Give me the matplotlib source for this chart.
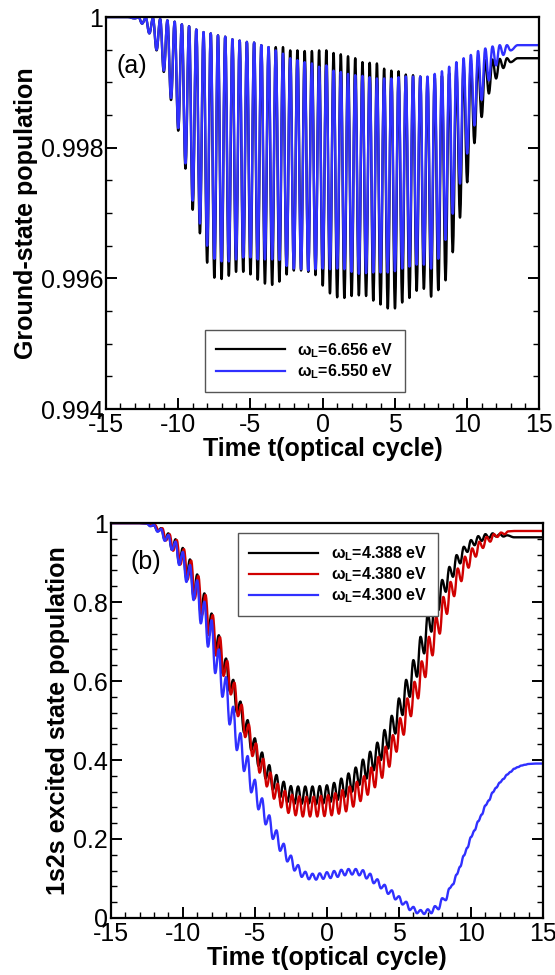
import numpy as np
import matplotlib.pyplot as plt
from matplotlib.path import Path
from matplotlib.patches import PathPatch
from matplotlib.lines import Line2D
from matplotlib.ticker import MultipleLocator

plt.rcParams['font.family'] = ['Liberation Sans', 'DejaVu Sans']
plt.rcParams['axes.unicode_minus'] = False
plt.rcParams['mathtext.fontset'] = 'custom'
plt.rcParams['mathtext.rm'] = 'Liberation Sans'
plt.rcParams['mathtext.bf'] = 'Liberation Sans:bold'

# ---------------- panel (a): ground-state population ----------------
# turning points, every half optical cycle
a_trough_t0 = -13.0
a_peak_t0 = -12.75
a_blue_trough = [0.99998, 0.99990, 0.99975, 0.99950, 0.99918, 0.99876, 0.99830, 0.99776, 0.99719, 0.99684,
                 0.99650, 0.99630, 0.99626, 0.99626, 0.99629, 0.99632, 0.99632, 0.99629, 0.99629, 0.99629,
                 0.99628, 0.99619, 0.99615, 0.99614, 0.99612, 0.99614, 0.99615, 0.99614, 0.99615, 0.99614,
                 0.99610, 0.99607, 0.99608, 0.99609, 0.99609, 0.99609, 0.99611, 0.99615, 0.99618, 0.99621,
                 0.99621, 0.99615, 0.99630, 0.99659, 0.99699, 0.99745, 0.99791, 0.99834, 0.99873, 0.99903,
                 0.99926, 0.99942, 0.99949]
a_black_trough = [0.99998, 0.99990, 0.99975, 0.99949, 0.99916, 0.99873, 0.99826, 0.99768, 0.99705, 0.99669,
                  0.99624, 0.99601, 0.99599, 0.99604, 0.99610, 0.99610, 0.99606, 0.99598, 0.99592, 0.99590,
                  0.99595, 0.99606, 0.99612, 0.99612, 0.99610, 0.99605, 0.99589, 0.99577, 0.99571, 0.99570,
                  0.99573, 0.99574, 0.99573, 0.99566, 0.99560, 0.99554, 0.99554, 0.99563, 0.99570, 0.99581,
                  0.99584, 0.99572, 0.99582, 0.99597, 0.99640, 0.99693, 0.99747, 0.99807, 0.99847, 0.99883,
                  0.99906, 0.99922, 0.99931]
a_blue_peak = [1.00000, 0.99999, 0.99998, 0.99997, 0.99995, 0.99993, 0.99989, 0.99986, 0.99981, 0.99977,
               0.99975, 0.99972, 0.99970, 0.99966, 0.99964, 0.99962, 0.99961, 0.99957, 0.99954, 0.99949,
               0.99944, 0.99937, 0.99934, 0.99931, 0.99929, 0.99924, 0.99926, 0.99918, 0.99916, 0.99913,
               0.99911, 0.99910, 0.99908, 0.99906, 0.99906, 0.99906, 0.99908, 0.99909, 0.99909, 0.99909,
               0.99909, 0.99913, 0.99917, 0.99924, 0.99931, 0.99937, 0.99942, 0.99948, 0.99952, 0.99955,
               0.99957, 0.99957]
a_black_peak = [1.00000, 0.99999, 0.99998, 0.99997, 0.99995, 0.99993, 0.99989, 0.99986, 0.99981, 0.99977,
                0.99975, 0.99972, 0.99970, 0.99966, 0.99964, 0.99962, 0.99961, 0.99957, 0.99954, 0.99954,
                0.99954, 0.99949, 0.99949, 0.99948, 0.99948, 0.99949, 0.99949, 0.99945, 0.99943, 0.99940,
                0.99937, 0.99931, 0.99930, 0.99929, 0.99921, 0.99918, 0.99917, 0.99912, 0.99911, 0.99909,
                0.99907, 0.99908, 0.99910, 0.99914, 0.99920, 0.99925, 0.99929, 0.99932, 0.99934, 0.99935,
                0.99936, 0.99937]
a_edge_t = [-15.0, -13.5, 13.5, 15.0]
a_blue_edge = [1.0, 1.0, 0.99957, 0.99957]
a_black_edge = [1.0, 1.0, 0.99937, 0.99937]
a_labels = ['ω$_\\mathregular{L}$=6.656 eV', 'ω$_\\mathregular{L}$=6.550 eV']

# ---------------- panel (b): 1s2s excited-state population ----------------
b_peak_t0 = -12.5
b_trough_t0 = -12.25
b_black_peak = [0.999, 0.995, 0.987, 0.974, 0.959, 0.937, 0.908, 0.870, 0.822, 0.771,
                0.716, 0.657, 0.603, 0.548, 0.501, 0.455, 0.419, 0.387, 0.362, 0.345,
                0.334, 0.333, 0.333, 0.333, 0.334, 0.336, 0.342, 0.353, 0.366, 0.381,
                0.401, 0.421, 0.444, 0.476, 0.512, 0.556, 0.603, 0.653, 0.712, 0.771,
                0.818, 0.856, 0.889, 0.919, 0.940, 0.957, 0.967, 0.972, 0.974, 0.972,
                0.969]
b_black_trough = [0.993, 0.980, 0.958, 0.932, 0.898, 0.860, 0.813, 0.771, 0.721, 0.670,
                  0.620, 0.575, 0.521, 0.470, 0.425, 0.385, 0.353, 0.325, 0.305, 0.293,
                  0.289, 0.289, 0.290, 0.288, 0.290, 0.294, 0.299, 0.307, 0.320, 0.337,
                  0.353, 0.374, 0.400, 0.429, 0.467, 0.514, 0.560, 0.611, 0.670, 0.725,
                  0.780, 0.826, 0.864, 0.898, 0.927, 0.944, 0.955, 0.962, 0.966, 0.966]
b_red_peak = [0.999, 0.995, 0.987, 0.972, 0.957, 0.934, 0.905, 0.866, 0.818, 0.767,
              0.711, 0.651, 0.596, 0.540, 0.490, 0.442, 0.403, 0.368, 0.340, 0.322,
              0.312, 0.308, 0.307, 0.307, 0.309, 0.311, 0.316, 0.324, 0.333, 0.345,
              0.359, 0.381, 0.408, 0.434, 0.463, 0.506, 0.556, 0.598, 0.650, 0.712,
              0.763, 0.813, 0.851, 0.885, 0.915, 0.936, 0.953, 0.965, 0.972, 0.976,
              0.979]
b_red_trough = [0.993, 0.980, 0.956, 0.930, 0.895, 0.857, 0.809, 0.767, 0.716, 0.664,
                0.613, 0.566, 0.511, 0.458, 0.410, 0.368, 0.333, 0.302, 0.280, 0.266,
                0.260, 0.257, 0.257, 0.257, 0.258, 0.260, 0.264, 0.270, 0.282, 0.296,
                0.312, 0.331, 0.355, 0.383, 0.421, 0.464, 0.511, 0.556, 0.610, 0.665,
                0.720, 0.770, 0.815, 0.853, 0.887, 0.915, 0.937, 0.953, 0.965, 0.972]
b_blue_peak = [0.999, 0.995, 0.985, 0.970, 0.953, 0.927, 0.894, 0.855, 0.801, 0.754,
               0.680, 0.610, 0.535, 0.468, 0.410, 0.350, 0.303, 0.260, 0.222, 0.188,
               0.158, 0.134, 0.117, 0.112, 0.113, 0.116, 0.119, 0.122, 0.124, 0.124,
               0.121, 0.112, 0.098, 0.084, 0.070, 0.055, 0.041, 0.028, 0.020, 0.022,
               0.030, 0.050, 0.075, 0.110, 0.158, 0.205, 0.245, 0.285, 0.318, 0.343,
               0.363, 0.378, 0.386, 0.390]
b_blue_trough = [0.992, 0.978, 0.955, 0.932, 0.894, 0.851, 0.805, 0.746, 0.687, 0.620,
                 0.560, 0.490, 0.425, 0.372, 0.318, 0.275, 0.237, 0.200, 0.170, 0.143,
                 0.120, 0.104, 0.098, 0.097, 0.099, 0.101, 0.104, 0.108, 0.110, 0.108,
                 0.100, 0.088, 0.075, 0.061, 0.047, 0.034, 0.020, 0.012, 0.010, 0.012,
                 0.022, 0.045, 0.085, 0.130, 0.178, 0.222, 0.262, 0.298, 0.330, 0.352,
                 0.370, 0.382, 0.388]
b_black_edge_t, b_black_edge = [-15.0, -13.0, 13.0, 15.0], [1.0, 1.0, 0.964, 0.964]
b_red_edge_t, b_red_edge = [-15.0, -13.0, 13.0, 15.0], [1.0, 1.0, 0.980, 0.980]
b_blue_edge_t, b_blue_edge = [-15.0, -13.0, 14.5, 15.0], [1.0, 1.0, 0.391, 0.391]
b_red_shift = 0.08
b_labels = ['ω$_\\mathregular{L}$=4.388 eV', 'ω$_\\mathregular{L}$=4.380 eV',
            'ω$_\\mathregular{L}$=4.300 eV']

BLACK, RED, BLUE = '#000000', '#d00000', '#3030ff'


def curve(peaks, p0, troughs, q0, edge_t, edge_v, shift=0.0):
    t = np.concatenate([p0 + 0.5 * np.arange(len(peaks)) + shift,
                        q0 + 0.5 * np.arange(len(troughs)) + shift, edge_t])
    v = np.concatenate([peaks, troughs, edge_v])
    o = np.argsort(t)
    return t[o], v[o]


def smooth(ax, t, v, color, lw):
    # cubic segments with flat tangents at every turning point
    verts, codes = [(t[0], v[0])], [Path.MOVETO]
    for i in range(len(t) - 1):
        dt = t[i + 1] - t[i]
        verts += [(t[i] + 0.4 * dt, v[i]), (t[i + 1] - 0.4 * dt, v[i + 1]), (t[i + 1], v[i + 1])]
        codes += [Path.CURVE4] * 3
    ax.add_patch(PathPatch(Path(verts, codes), fill=False, edgecolor=color, lw=lw,
                           joinstyle='round', capstyle='round'))


def style(ax):
    for s in ax.spines.values():
        s.set_linewidth(1.6)
    ax.tick_params(which='both', direction='in', left=True, right=True, top=False,
                   bottom=True, labelsize=18)
    ax.tick_params(which='major', length=8, width=1.4, pad=3)
    ax.tick_params(which='minor', length=4.5, width=1.0)
    ax.set_xlim(-15, 15)
    ax.xaxis.set_major_locator(MultipleLocator(5))
    ax.xaxis.set_minor_locator(MultipleLocator(1))
    ax.set_xlabel('Time t(optical cycle)', fontsize=18, fontweight='bold', labelpad=0)


fig = plt.figure(figsize=(5.55, 9.75), dpi=100)

ax1 = fig.add_axes([0.191, 0.5805, 0.781, 0.402])
t, v = curve(a_black_peak, a_peak_t0, a_black_trough, a_trough_t0, a_edge_t, a_black_edge)
smooth(ax1, t, v, BLACK, 1.7)
t, v = curve(a_blue_peak, a_peak_t0, a_blue_trough, a_trough_t0, a_edge_t, a_blue_edge)
smooth(ax1, t, v, BLUE, 1.7)
style(ax1)
ax1.set_ylim(0.994, 1.0)
ax1.set_yticks([0.994, 0.996, 0.998, 1.0])
ax1.set_yticklabels(['0.994', '0.996', '0.998', '1'])
ax1.yaxis.set_minor_locator(MultipleLocator(0.0005))
ax1.tick_params(axis='y', pad=2)
ax1.set_ylabel('Ground-state population', fontsize=18, fontweight='bold', labelpad=2)
ax1.text(0.025, 0.875, '(a)', transform=ax1.transAxes, fontsize=18, va='center')
h1 = [Line2D([], [], color=c, lw=1.6) for c in (BLACK, BLUE)]
leg = ax1.legend(h1, a_labels, loc='upper left', bbox_to_anchor=(0.228, 0.202),
                 prop={'size': 11.5, 'weight': 'bold'}, handlelength=4.3, labelspacing=0.15,
                 borderpad=0.7, fancybox=False, framealpha=1, borderaxespad=0)
leg.get_frame().set_edgecolor('#555555')
leg.get_frame().set_linewidth(1.0)

ax2 = fig.add_axes([0.1995, 0.0585, 0.779, 0.405])
t, v = curve(b_black_peak, b_peak_t0, b_black_trough, b_trough_t0, b_black_edge_t, b_black_edge)
smooth(ax2, t, v, BLACK, 1.7)
t, v = curve(b_red_peak, b_peak_t0, b_red_trough, b_trough_t0, b_red_edge_t, b_red_edge, b_red_shift)
smooth(ax2, t, v, RED, 1.7)
t, v = curve(b_blue_peak, b_peak_t0, b_blue_trough, b_trough_t0, b_blue_edge_t, b_blue_edge)
smooth(ax2, t, v, BLUE, 1.7)
style(ax2)
ax2.set_ylim(0, 1)
ax2.set_yticks([0, 0.2, 0.4, 0.6, 0.8, 1.0])
ax2.set_yticklabels(['0', '0.2', '0.4', '0.6', '0.8', '1'])
ax2.yaxis.set_minor_locator(MultipleLocator(0.04))
ax2.tick_params(axis='y', pad=2)
ax2.set_ylabel('1s2s excited state population', fontsize=18, fontweight='bold', labelpad=2)
ax2.text(0.045, 0.9025, '(b)', transform=ax2.transAxes, fontsize=18, va='center')
h2 = [Line2D([], [], color=c, lw=1.6) for c in (BLACK, RED, BLUE)]
leg = ax2.legend(h2, b_labels, loc='upper left', bbox_to_anchor=(0.2945, 0.975),
                 prop={'size': 11.5, 'weight': 'bold'}, handlelength=4.3, labelspacing=0.15,
                 borderpad=0.7, fancybox=False, framealpha=1, borderaxespad=0)
leg.get_frame().set_edgecolor('#555555')
leg.get_frame().set_linewidth(1.0)

fig.savefig('out.png', dpi=100)
